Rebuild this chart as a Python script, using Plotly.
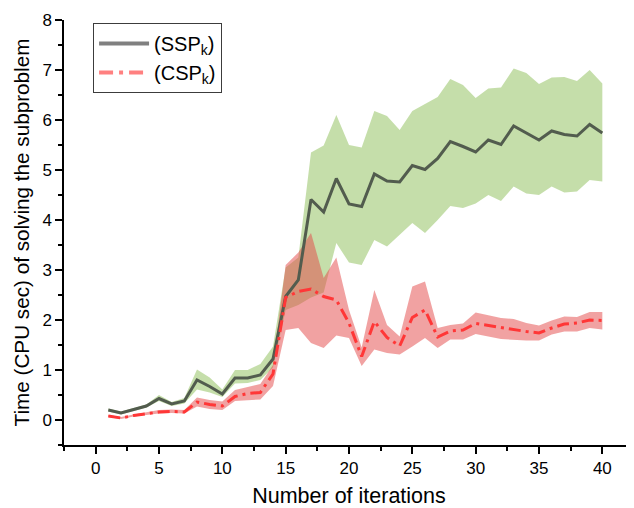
import plotly.graph_objects as go

iterations = list(range(1, 41))

ssp_mean = [0.20, 0.14, 0.21, 0.28, 0.43, 0.32, 0.38, 0.80, 0.67, 0.52,
            0.84, 0.84, 0.90, 1.22, 2.47, 2.80, 4.41, 4.16, 4.83, 4.32,
            4.27, 4.92, 4.78, 4.76, 5.09, 5.01, 5.23, 5.57, 5.47, 5.36,
            5.60, 5.51, 5.88, 5.74, 5.60, 5.78, 5.71, 5.68, 5.91, 5.74]
ssp_upper = [0.23, 0.17, 0.24, 0.31, 0.50, 0.36, 0.44, 1.01, 0.85, 0.61,
             1.00, 1.00, 1.12, 1.47, 3.05, 3.25, 5.35, 5.49, 6.10, 5.50,
             5.45, 6.18, 6.08, 5.80, 6.18, 6.32, 6.46, 6.82, 6.70, 6.44,
             6.63, 6.65, 7.03, 6.94, 6.72, 6.85, 6.86, 6.78, 7.00, 6.73]
ssp_lower = [0.17, 0.11, 0.18, 0.25, 0.38, 0.28, 0.33, 0.61, 0.55, 0.46,
             0.73, 0.74, 0.80, 1.05, 2.20, 2.30, 2.45, 2.55, 3.54, 3.15,
             3.10, 3.60, 3.47, 3.70, 3.94, 3.74, 4.00, 4.28, 4.24, 4.33,
             4.50, 4.38, 4.67, 4.53, 4.50, 4.67, 4.55, 4.57, 4.80, 4.77]

csp_mean = [0.08, 0.04, 0.09, 0.12, 0.16, 0.17, 0.16, 0.36, 0.31, 0.28,
            0.47, 0.53, 0.55, 0.92, 2.45, 2.57, 2.62, 2.47, 2.40, 1.94,
            1.27, 1.97, 1.65, 1.48, 2.05, 2.20, 1.66, 1.78, 1.80, 1.93,
            1.89, 1.84, 1.81, 1.77, 1.74, 1.84, 1.92, 1.94, 2.00, 1.99]
csp_upper = [0.10, 0.06, 0.11, 0.15, 0.20, 0.21, 0.20, 0.45, 0.40, 0.37,
             0.60, 0.66, 0.72, 1.10, 3.10, 3.35, 3.74, 2.84, 3.25, 2.20,
             1.45, 2.60, 1.90, 1.67, 2.67, 2.77, 1.84, 1.90, 1.93, 2.15,
             2.10, 2.04, 2.02, 1.94, 1.89, 1.99, 2.07, 2.06, 2.16, 2.16]
csp_lower = [0.06, 0.02, 0.07, 0.10, 0.13, 0.14, 0.13, 0.27, 0.22, 0.20,
             0.38, 0.40, 0.41, 0.68, 1.80, 1.84, 1.54, 1.44, 1.69, 1.64,
             1.08, 1.41, 1.34, 1.31, 1.47, 1.64, 1.44, 1.61, 1.61, 1.72,
             1.67, 1.62, 1.61, 1.59, 1.59, 1.71, 1.77, 1.77, 1.84, 1.81]

series_names = ["(SSP<sub>k</sub>)", "(CSP<sub>k</sub>)"]
x_ticks = [0, 5, 10, 15, 20, 25, 30, 35, 40]
y_ticks = [0, 1, 2, 3, 4, 5, 6, 7, 8]

FONT = "Liberation Sans, Arial, sans-serif"
GREEN_FILL = "rgba(150,195,100,0.55)"
RED_FILL = "rgba(228,70,70,0.5)"
GRAY_LINE = "rgb(82,92,78)"
RED_LINE = "rgb(255,55,55)"
DASHDOT = "12px,5px,3px,5px"

fig = go.Figure()

# bands
fig.add_trace(go.Scatter(
    x=iterations + iterations[::-1], y=ssp_upper + ssp_lower[::-1],
    fill="toself", fillcolor=GREEN_FILL, line=dict(width=0),
    mode="lines", showlegend=False, hoverinfo="skip"))
fig.add_trace(go.Scatter(
    x=iterations + iterations[::-1], y=csp_upper + csp_lower[::-1],
    fill="toself", fillcolor=RED_FILL, line=dict(width=0),
    mode="lines", showlegend=False, hoverinfo="skip"))

# mean lines
fig.add_trace(go.Scatter(
    x=iterations, y=ssp_mean, mode="lines",
    line=dict(color=GRAY_LINE, width=3), showlegend=False))
fig.add_trace(go.Scatter(
    x=iterations, y=csp_mean, mode="lines",
    line=dict(color=RED_LINE, width=3, dash=DASHDOT), showlegend=False))

# legend entries
fig.add_trace(go.Scatter(
    x=[None], y=[None], mode="lines", name=series_names[0],
    line=dict(color="rgb(128,128,128)", width=4)))
fig.add_trace(go.Scatter(
    x=[None], y=[None], mode="lines", name=series_names[1],
    line=dict(color="rgb(255,128,128)", width=4, dash="14px,6px,4px,6px")))

axis_common = dict(
    showline=True, linecolor="black", linewidth=1.5,
    ticks="outside", ticklen=7, tickwidth=1.5, tickcolor="black",
    showgrid=False, zeroline=False, mirror=False, automargin=False,
    tickfont=dict(family=FONT, size=17, color="black"),
)

fig.update_xaxes(
    range=[-2.5, 42.5], tickmode="array", tickvals=x_ticks,
    minor=dict(dtick=2.5, tick0=0, ticks="outside", ticklen=4,
               tickwidth=1.5, tickcolor="black"),
    title=dict(text="Number of iterations",
               font=dict(family=FONT, size=21.5, color="black")),
    **axis_common)
fig.update_yaxes(
    range=[-0.5, 8], tickmode="array", tickvals=y_ticks,
    minor=dict(dtick=0.5, tick0=0, ticks="outside", ticklen=4,
               tickwidth=1.5, tickcolor="black"),
    title=dict(text="Time (CPU sec) of solving the subproblem",
               font=dict(family=FONT, size=20.7, color="black"), standoff=7),
    **axis_common)

# the page body adds an 8px offset, so the figure is laid out 8px smaller
fig.update_layout(
    width=626, height=500,
    margin=dict(l=56, r=0, t=12, b=63),
    paper_bgcolor="white", plot_bgcolor="white",
    font=dict(family=FONT, color="black"),
    legend=dict(x=0.051, y=0.993, xanchor="left", yanchor="top",
                bordercolor="rgb(60,60,60)", borderwidth=1,
                bgcolor="rgba(255,255,255,0)",
                font=dict(family=FONT, size=20, color="black"),
                itemwidth=50, tracegroupgap=0),
)

fig.write_html("out.html")
